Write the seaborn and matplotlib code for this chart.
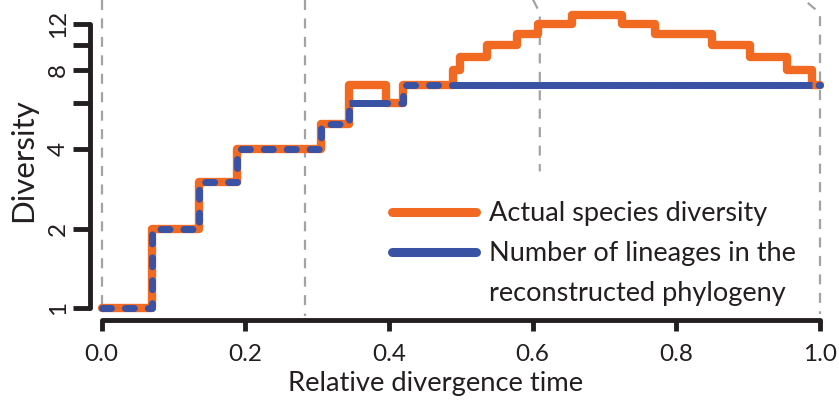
import numpy as np
import pandas as pd
import matplotlib
matplotlib.use("Agg")
import matplotlib.pyplot as plt
from matplotlib.lines import Line2D
from matplotlib.ticker import FixedLocator, NullLocator
import seaborn as sns

# step data: value holds from each time until the next one
actual_t = [0.0, 0.0696, 0.136, 0.189, 0.305, 0.345, 0.396, 0.42, 0.489, 0.499,
            0.536, 0.578, 0.607, 0.655, 0.724, 0.770, 0.850, 0.902, 0.954, 0.989, 1.0]
actual_n = [1, 2, 3, 4, 5, 7, 6, 7, 8, 9, 10, 11, 12, 13, 12, 11, 10, 9, 8, 7, 7]

lineage_t = [0.0, 0.0696, 0.136, 0.189, 0.305, 0.345, 0.42, 1.0]
lineage_n = [1, 2, 3, 4, 5, 6, 7, 7]

# grey dashed guides (time, diversity) polylines
guide_x = [[0.0, 0.0], [0.283, 0.283], [0.6006, 0.61, 0.61], [0.983, 0.993, 1.0, 1.0]]
guide_y = [[14.8, 0.98], [14.8, 0.93], [14.8, 13.2, 3.3], [14.4, 13.65, 12.95, 0.95]]

yticks = [1, 2, 4, 6, 8, 10, 12]
yticklabels = ["1", "2", "4", "", "8", "", "12"]
xticks = [0.0, 0.2, 0.4, 0.6, 0.8, 1.0]

ORANGE = "#F26A22"
BLUE = "#3A52A3"
GREY = "#A3A3A6"
INK = "#231F20"

sns.set_style("white")
plt.rcParams["font.family"] = ["Lato", "DejaVu Sans"]

fig = plt.figure(figsize=(8.39, 4.01), dpi=100)
ax = fig.add_axes([90 / 839, 1 - 320 / 401, 740 / 839, 320 / 401])

for gx, gy in zip(guide_x, guide_y):
    ax.plot(gx, gy, color=GREY, lw=1.6, ls=(0, (4.5, 3.8)), clip_on=False, zorder=1)

actual = pd.DataFrame({"t": actual_t, "n": actual_n})
lineage = pd.DataFrame({"t": lineage_t, "n": lineage_n})

sns.lineplot(data=actual, x="t", y="n", ax=ax, color=ORANGE, lw=6,
             drawstyle="steps-post", estimator=None, sort=False,
             solid_joinstyle="round", solid_capstyle="round", zorder=3)

sns.lineplot(data=lineage, x="t", y="n", ax=ax, color=BLUE, lw=5,
             drawstyle="steps-post", estimator=None, sort=False,
             ls=(0, (1.3, 2.0)), dash_capstyle="round", zorder=4)

# solid blue where the reconstructed count departs from the actual one
grid = np.union1d(actual_t, lineage_t)
def value_at(t, ts, vs):
    return np.asarray(vs)[np.searchsorted(ts, t, side="right") - 1]
a_val = value_at(grid[:-1], actual_t, actual_n)
b_val = value_at(grid[:-1], lineage_t, lineage_n)
diff = a_val != b_val
i = 0
while i < len(diff):
    if diff[i]:
        j = i
        while j + 1 < len(diff) and diff[j + 1]:
            j += 1
        seg = pd.DataFrame({"t": [grid[i], grid[j + 1]],
                            "n": [b_val[i], b_val[i]]})
        sns.lineplot(data=seg, x="t", y="n", ax=ax, color=BLUE, lw=5,
                     estimator=None, sort=False,
                     solid_capstyle="butt", zorder=4)
        i = j + 1
    else:
        i += 1

ax.set_yscale("log")
ax.set_xlim(-11.5 / 718.5, 1 + 10 / 718.5)
ax.set_ylim(2 ** (-12 / 79.3), 2 ** (308 / 79.3))

ax.yaxis.set_major_locator(FixedLocator(yticks))
ax.yaxis.set_minor_locator(NullLocator())
ax.set_yticklabels(yticklabels, rotation=90, va="center", fontsize=17.5, color=INK)
ax.set_xticks(xticks)
ax.set_xticklabels([f"{x:.1f}" for x in xticks], fontsize=17.5, color=INK)

ax.tick_params(axis="y", length=12, width=3.5, color=INK, pad=3, left=True)
ax.tick_params(axis="x", length=8, width=3.5, color=INK, pad=9, bottom=True)

for side in ["top", "right"]:
    ax.spines[side].set_visible(False)
for side in ["left", "bottom"]:
    ax.spines[side].set_linewidth(3.5)
    ax.spines[side].set_color(INK)
    ax.spines[side].set_capstyle("round")
ax.spines["left"].set_bounds(1, 12)
ax.spines["bottom"].set_bounds(0, 1)

ax.set_xlabel("Relative divergence time", fontsize=19.7, color=INK)
ax.xaxis.set_label_coords((436 - 90) / 740, -0.16)
ax.set_ylabel("Diversity", fontsize=22.5, labelpad=8, color=INK)

blank = Line2D([], [], color="none")
h_lineage_leg = Line2D([], [], color=BLUE, lw=6.5, solid_capstyle="round")
h_actual_leg = Line2D([], [], color=ORANGE, lw=6.5, solid_capstyle="round")
ax.legend(handles=[h_actual_leg, h_lineage_leg, blank],
          labels=["Actual species diversity", "Number of lineages in the",
                  "reconstructed phylogeny"],
          loc="upper left", bbox_to_anchor=((392 - 90) / 740, (320 - 201) / 320),
          frameon=False, fontsize=19.5, handlelength=3.1, handletextpad=0.48,
          labelspacing=0.56, borderpad=0, borderaxespad=0, labelcolor=INK)

fig.savefig("out.png", dpi=100)
